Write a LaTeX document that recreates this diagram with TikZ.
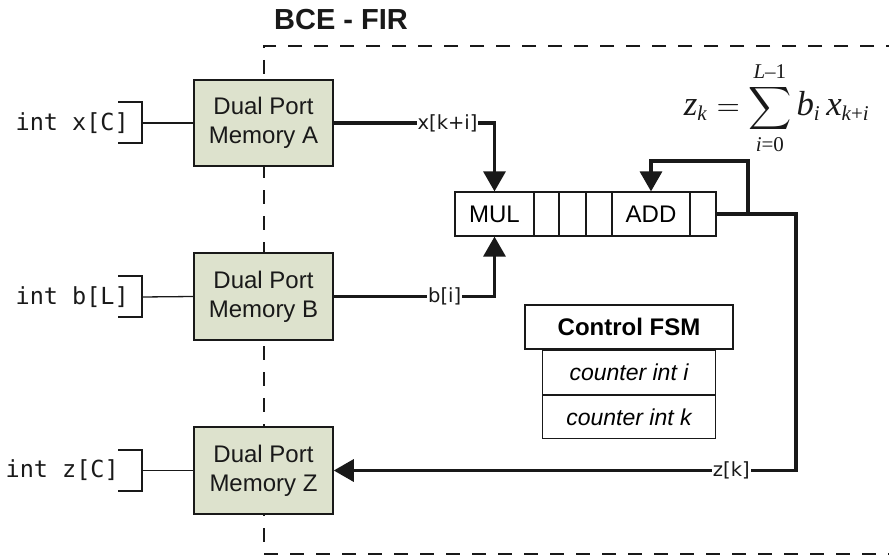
\documentclass[tikz,border=0pt]{standalone}
\usepackage{amsmath}
\usepackage{fontspec}
\setmainfont{Liberation Sans}
\newfontfamily\monof{DejaVu Sans Mono}
\newfontfamily\labf{DejaVu Sans}
\newfontfamily\tmsf{Liberation Serif}
\newcommand\tv[1]{\text{\tmsf\itshape #1}}
\newcommand\tvb[1]{\text{\tmsf\itshape\fontsize{11.6}{12}\selectfont #1}}
\newcommand\tu[1]{\text{\tmsf #1}}
\usetikzlibrary{arrows.meta}
\definecolor{memfill}{RGB}{221,226,205}
\definecolor{ink}{RGB}{25,25,25}
\tikzset{
  memory/.style={draw=ink, line width=1.5pt, fill=memfill, minimum width=139pt, minimum height=86pt,
    align=center, font=\fontsize{24}{29}\selectfont, text=ink, inner sep=0pt},
  cell/.style={draw=ink, line width=1.2pt, fill=white, minimum height=44pt, inner sep=0pt,
    font=\fontsize{24}{29}\selectfont},
  fsm/.style={draw=ink, line width=1.3pt, fill=white, inner sep=0pt},
  thin/.style={draw=ink, line width=1.3pt},
  bus/.style={draw=ink, line width=3.2pt},
  busarrow/.style={bus, -{Triangle[length=20pt,width=22pt]}},
  lab/.style={fill=white, inner sep=1pt, font=\labf\fontsize{19.5}{22}\selectfont, text=ink},
  arr/.style={font=\monof\fontsize{23.5}{28}\selectfont, text=ink, anchor=east, inner sep=0pt},
  boundary/.style={draw=ink, line width=2pt, dash pattern=on 14pt off 12pt},
}
\begin{document}
\begin{tikzpicture}[x=1pt,y=-1pt]
\useasboundingbox (0,0) rectangle (889,559);

% dashed boundary
\draw[boundary] (900,46) -- (264,46) -- (264,554) -- (900,554);

% title
\node[font=\bfseries\fontsize{29}{34}\selectfont, text=ink] (title) at (341,20) {BCE - FIR};

% memories
\node[memory] (memA) at (263.5,123) {Dual Port\\Memory A};
\node[memory, minimum height=87pt] (memB) at (263.5,296.5) {Dual Port\\Memory B};
\node[memory, minimum height=87pt] (memZ) at (263.5,470.5) {Dual Port\\Memory Z};

% external arrays
\node[arr] (ax) at (129,123) {int x[C]};
\node[arr] (ab) at (129,297) {int b[L]};
\node[arr] (az) at (119,470) {int z[C]};
\coordinate (bxA) at (142,123);
\coordinate (bxB) at (142,297);
\coordinate (bxZ) at (142,470.5);
\draw[thin] (118,102) -- (142,102) -- (142,143) -- (118,143);
\draw[thin] (118,276) -- (142,276) -- (142,317) -- (118,317);
\draw[thin] (118,450) -- (142,450) -- (142,491) -- (118,491);
\draw[thin] (bxA) -- (memA.west);
\draw[thin] (bxB) -- (memB.west);
\draw[thin] (bxZ) -- (memZ.west);

% pipeline
\node[cell, minimum width=79pt] (mul) at (494.5,214) {MUL};
\node[cell, minimum width=25pt] (c2) at (546.5,214) {};
\node[cell, minimum width=27pt] (c3) at (572.5,214) {};
\node[cell, minimum width=26pt] (c4) at (599,214) {};
\node[cell, minimum width=78pt] (add) at (651,214) {ADD};
\node[cell, minimum width=26pt] (c6) at (703,214) {};

% connections
\draw[busarrow] (memA.east) -| node[lab, pos=0.354] (lx) {x[k+i]} (mul.north);
\draw[busarrow] (memB.east) -| node[lab, pos=0.345] (lb) {b[i]} (mul.south);
\coordinate (split) at (748,214);
\coordinate (fbtop) at (748,161);
\coordinate (outc) at (796,214);
\draw[bus] (c6.east) -- (split);
\draw[busarrow] (split) -- (fbtop) -| (add.north);
\draw[busarrow] (split) -- (outc) |- node[lab, pos=0.57] (lz) {z[k]} (memZ.east);

% control FSM
\node[fsm, minimum width=208pt, minimum height=44pt, font=\bfseries\fontsize{24}{29}\selectfont] (ctrl) at (629,327) {Control FSM};
\node[fsm, minimum width=173pt, minimum height=44pt, font=\itshape\fontsize{23}{28}\selectfont, anchor=north] (ci) at (ctrl.south) {counter int i};
\node[fsm, minimum width=173pt, minimum height=43pt, font=\itshape\fontsize{23}{28}\selectfont, anchor=north] (ck) at (ci.south) {counter int k};

% formula
\node[scale=3.0, anchor=base, text=ink, inner sep=0pt] (eq) at (777,116) {$\displaystyle \tvb{z}_{\tv{k}}=\sum_{\tv{i}\tu{=0}}^{\tv{L}\tu{–1}} \tvb{b}_{\tv{i}}\,\tvb{x}_{\tv{k}\tu{+}\tv{i}}$};
\end{tikzpicture}
\end{document}
